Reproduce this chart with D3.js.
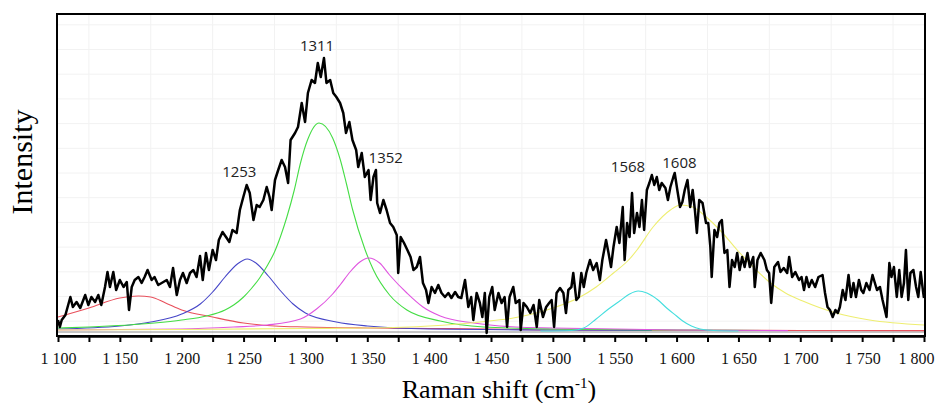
<!DOCTYPE html>
<html>
<head>
<meta charset="utf-8">
<script src="https://cdn.jsdelivr.net/npm/d3@7"></script>
<style>
  body { margin: 0; background: #fff; }
  svg { display: block; }
</style>
</head>
<body>
<script>
// measured spectrum: [raman shift (cm-1), intensity (a.u., above baseline)]
var spectrum = [
  [1100,11],[1101.5,4],[1103,11],[1106,16],[1110,34],[1112,24],[1115,29],[1118,23],[1122,36],[1124.5,26],
  [1127,34],[1130,29],[1132.6,36],[1135,26],[1138,44],[1140,59],[1142,44],[1144.7,59],[1147,41],[1150,51],
  [1153,44],[1155.6,49],[1157.4,21],[1159.6,44],[1162,51],[1165,54],[1167.6,48],[1170,54],[1172.4,61],[1175.7,51],
  [1178,54],[1181,46],[1183.8,48],[1187.9,51],[1190.5,44],[1193,63],[1196,36],[1198.6,51],[1201,58],[1204,48],
  [1206.7,58],[1209.4,61],[1212,54],[1214.8,75],[1217,51],[1219.6,78],[1222,61],[1225,81],[1227.7,71],[1230,91],
  [1233,99],[1235.8,94],[1238.5,89],[1241,101],[1244.4,98],[1247,121],[1249.8,134],[1252.5,146],[1255,138],[1258,111],
  [1260.6,126],[1263,124],[1266,131],[1268.7,144],[1271,134],[1272.7,121],[1275.4,151],[1278,161],[1280.8,171],[1283.5,164],
  [1286,148],[1288,191],[1291.6,198],[1294,204],[1297,228],[1299.7,209],[1302,238],[1305,251],[1307.7,248],[1310,268],
  [1312.4,254],[1315,273],[1317,248],[1320,251],[1322.5,238],[1325,234],[1328,228],[1330.6,218],[1332.8,198],[1335.5,209],
  [1338,191],[1341,181],[1342.7,164],[1345.5,178],[1348,154],[1351,161],[1352.7,131],[1355,154],[1357,161],[1358,128],
  [1360.3,118],[1363,131],[1365.6,121],[1368.4,108],[1371,104],[1373.8,96],[1375,58],[1377,94],[1379.7,88],[1382.4,81],
  [1385,74],[1387.3,61],[1390,64],[1392.6,74],[1395,48],[1397.5,41],[1399.4,28],[1402,44],[1404.7,38],[1407.4,46],
  [1410,38],[1412.8,34],[1415.5,38],[1418,33],[1421,39],[1423.5,34],[1426,33],[1429,51],[1431.7,24],[1434,34],
  [1435.7,11],[1438.4,38],[1441,28],[1443,14],[1445,38],[1446.5,-2],[1448.6,34],[1451,44],[1453,21],[1456,38],
  [1458.6,28],[1461,34],[1463,4],[1465,34],[1468,44],[1470,28],[1473,31],[1474,1],[1476.3,28],[1479,24],
  [1481.7,18],[1484.4,26],[1487,4],[1489,31],[1492,14],[1494.6,24],[1497,28],[1499,31],[1501,4],[1503,38],
  [1505.8,43],[1508.5,38],[1510.6,18],[1512.5,41],[1515,44],[1516.5,58],[1519,31],[1521,34],[1523,58],[1525,44],
  [1527,58],[1530,71],[1532.6,61],[1535.4,68],[1538,51],[1540,71],[1543,91],[1545,78],[1547,64],[1549,84],
  [1551.6,104],[1553.8,88],[1556.5,124],[1558,71],[1560,108],[1562,94],[1564,138],[1565.7,98],[1568,118],[1570,104],
  [1572,131],[1573.8,101],[1576,141],[1578,148],[1580,156],[1582,146],[1584,154],[1586,141],[1588,148],[1591,143],
  [1593,131],[1595,144],[1597.4,154],[1598.5,158],[1600.6,141],[1602.8,124],[1604.7,129],[1606.6,141],[1608.8,151],[1611,124],
  [1613,141],[1614.8,121],[1616.4,98],[1618.3,131],[1621,128],[1623.8,108],[1625.6,108],[1627.3,84],[1628.4,54],[1630.6,101],
  [1632.8,94],[1634.6,108],[1636.6,111],[1638.7,78],[1641,81],[1642.8,44],[1644.8,71],[1647,64],[1649,78],[1651,61],
  [1653,74],[1655,64],[1657.3,78],[1659.2,64],[1662,74],[1663.2,44],[1665.4,71],[1668,78],[1671,71],[1673,61],
  [1674.8,58],[1676.5,28],[1679,64],[1682,69],[1684,59],[1686.6,63],[1689.4,58],[1691,74],[1693.4,54],[1696,59],
  [1699,51],[1701,54],[1703,41],[1705,54],[1707,44],[1709.3,51],[1712,44],[1714.7,54],[1718,56],[1720,38],
  [1722,24],[1724,21],[1726.2,14],[1728.4,21],[1730.3,18],[1732,24],[1734.3,41],[1736.5,31],[1739,56],[1741,34],
  [1743,48],[1745,34],[1747.4,51],[1749.3,41],[1751,38],[1753.4,48],[1756,41],[1758.4,56],[1760.3,48],[1762,41],
  [1764.4,44],[1766.5,31],[1768.4,21],[1769.7,14],[1772,68],[1773.7,54],[1775.7,64],[1778,34],[1780,61],[1781.9,34],
  [1783.8,48],[1785.4,81],[1787.3,31],[1789,58],[1791.4,61],[1793.6,44],[1795.4,34],[1797.3,59],[1799.4,38],[1800,33]
];

// fitted components
var fitRed = [[1100,14],[1125,23],[1150,33],[1165,35],[1175,34],[1187,28],[1200,21],[1225,14],[1250,8],[1275,5],
  [1300,4],[1350,3],[1400,2.5],[1450,2],[1500,1],[1600,0.8],[1700,0.5],[1800,0.4]];
var fitBlue = [[1100,2],[1150,5],[1175,9],[1200,17],[1215,27],[1225,39],[1235,54],[1245,67],[1253,72],[1260,68],
  [1270,55],[1280,40],[1290,27],[1300,18],[1325,9],[1350,5],[1400,2],[1500,1],[1580,0.5]];
var fitGreen = [[1100,3],[1125,4],[1178,8],[1200,11],[1220,15],[1235,21],[1242,26],[1250,34],[1256,42],[1263,53],
  [1269,65],[1275,79],[1280,95],[1285,114],[1291,141],[1296,168],[1302,192],[1311,208],[1322,193],[1328,172],
  [1333,148],[1338,122],[1348,82],[1355,61],[1368,36],[1382,21],[1409,10],[1444,4],[1500,2],[1600,1],[1680,0.5]];
var fitMagenta = [[1100,1],[1200,2],[1242,4],[1269,6],[1296,12],[1309,22],[1322,37],[1328,46],[1336,59],[1344,69],
  [1351,73],[1360,68],[1368,56],[1382,38],[1395,24],[1409,15],[1436,8],[1470,4],[1500,3],[1600,1],[1690,0.4]];
var fitYellow = [[1100,1],[1200,1.5],[1300,2.5],[1350,3],[1400,5],[1441,9],[1468,13],[1495,21],[1522,34],[1535,44],
  [1549,58],[1562,72],[1568,81],[1581,104],[1595,121],[1603,126],[1613,124],[1624,114],[1635,101],[1649,81],
  [1662,64],[1675,49],[1688,38],[1702,30],[1729,18],[1756,11],[1800,6]];
var fitCyan = [[1490,0],[1515,0.5],[1525,3],[1535,12],[1545,22],[1554,30],[1562,37],[1569,40],[1576,38],[1585,31],
  [1592,23],[1600,15],[1605,10],[1612,5],[1619,2],[1630,0.5],[1650,0]];

var components = [
  {name: "red", color: "#e8505c", data: fitRed},
  {name: "blue", color: "#4646c8", data: fitBlue},
  {name: "green", color: "#44dd44", data: fitGreen},
  {name: "magenta", color: "#e055e0", data: fitMagenta},
  {name: "yellow", color: "#eeee70", data: fitYellow},
  {name: "cyan", color: "#44dede", data: fitCyan}
];

var peakLabels = [1253, 1311, 1352, 1568, 1608];
var peakHeights = [146, 273, 161, 138, 151];

var xTicks = d3.range(1100, 1801, 25);

var width = 936, height = 403;
var margin = {top: 14, right: 12, bottom: 67, left: 58};

var svg = d3.select("body").append("svg")
  .attr("width", width)
  .attr("height", height);

var x = d3.scaleLinear().domain([1100, 1800]).range([margin.left, width - margin.right]);
var y = d3.scaleLinear().domain([-5, 317]).range([height - margin.bottom, margin.top]);

// faint grid
var grid = svg.append("g").attr("stroke", "#f2f2f2").attr("stroke-width", 1);
grid.selectAll("line.v").data(d3.range(1125, 1800, 50)).enter().append("line")
  .attr("x1", d => x(d)).attr("x2", d => x(d))
  .attr("y1", margin.top).attr("y2", height - margin.bottom);
grid.selectAll("line.h").data(d3.range(9.8, 317, 24.7)).enter().append("line")
  .attr("x1", margin.left).attr("x2", width - margin.right)
  .attr("y1", d => y(d)).attr("y2", d => y(d));

// baseline
svg.append("line")
  .attr("x1", x(1100)).attr("x2", x(1800))
  .attr("y1", y(-1)).attr("y2", y(-1))
  .attr("stroke", "#8c8c8c").attr("stroke-width", 1);

var line = d3.line()
  .x(d => x(d[0]))
  .y(d => y(d[1]));

// components
svg.selectAll("path.comp").data(components).enter().append("path")
  .attr("class", "comp")
  .attr("fill", "none")
  .attr("stroke", d => d.color)
  .attr("stroke-width", 1.1)
  .attr("d", d => line.curve(d3.curveMonotoneX)(d.data));

// spectrum
svg.append("path")
  .datum(spectrum)
  .attr("fill", "none")
  .attr("stroke", "#000")
  .attr("stroke-width", 2.5)
  .attr("stroke-linejoin", "round")
  .attr("d", line.curve(d3.curveLinear));

// frame
svg.append("rect")
  .attr("x", margin.left - 1).attr("y", margin.top)
  .attr("width", width - margin.right - margin.left + 2)
  .attr("height", height - margin.bottom - margin.top)
  .attr("fill", "none").attr("stroke", "#000").attr("stroke-width", 2);

// x axis
var fmt = d3.formatLocale({decimal: ".", thousands: " ", grouping: [3], currency: ["", ""]}).format(",d");
var xAxis = svg.append("g")
  .attr("transform", "translate(0," + (height - margin.bottom) + ")")
  .call(d3.axisBottom(x).tickValues(xTicks).tickSize(6).tickSizeOuter(0)
    .tickFormat(d => d % 50 === 0 ? fmt(d) : ""));
xAxis.select(".domain").attr("stroke-width", 2.5);
xAxis.selectAll(".tick line").attr("stroke-width", 2);
xAxis.selectAll(".tick text")
  .attr("y", 17)
  .attr("dx", d => d === 1800 ? -8 : 0)
  .style("font-family", "'Liberation Serif', 'Times New Roman', serif")
  .style("font-size", "16px")
  .attr("fill", "#111");

// axis titles
var xTitle = svg.append("text")
  .attr("x", (x(1100) + x(1800)) / 2 + 8)
  .attr("y", 398)
  .attr("text-anchor", "middle")
  .style("font-family", "'Liberation Serif', 'Times New Roman', serif")
  .style("font-size", "26px")
  .text("Raman shift (cm");
xTitle.append("tspan").attr("dy", -10).style("font-size", "15px").text("-1");
xTitle.append("tspan").attr("dy", 10).text(")");

svg.append("text")
  .attr("transform", "translate(32," + 162 + ") rotate(-90)")
  .attr("text-anchor", "middle")
  .style("font-family", "'Liberation Serif', 'Times New Roman', serif")
  .style("font-size", "30px")
  .text("Intensity");

// peak labels
var labelDx = [-8, -2, 16, -9, -7];
var labelDy = [-8, -7, -7, -21, -12];
svg.selectAll("text.peak").data(peakLabels).enter().append("text")
  .attr("class", "peak")
  .attr("x", (d, i) => x(d) + labelDx[i])
  .attr("y", (d, i) => y(peakHeights[i]) + labelDy[i])
  .attr("text-anchor", "middle")
  .style("font-family", "'Open Sans', 'Noto Sans', sans-serif")
  .style("font-size", "15px")
  .attr("fill", "#222")
  .text(d => d);
</script>
</body>
</html>
